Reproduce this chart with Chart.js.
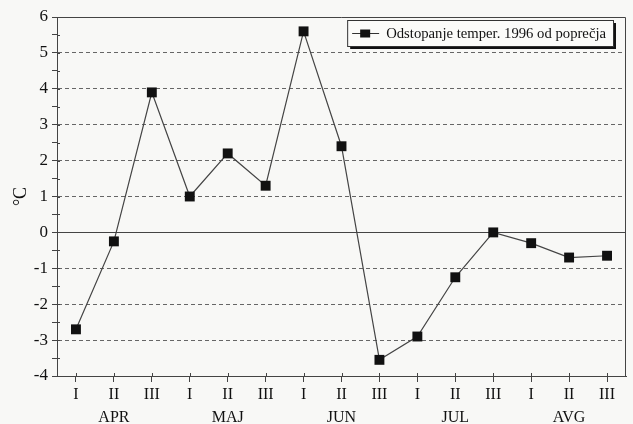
<!DOCTYPE html>
<html>
<head>
<meta charset="utf-8">
<script src="https://cdn.jsdelivr.net/npm/chart.js@4/dist/chart.umd.min.js"></script>
<style>
  html, body { margin: 0; padding: 0; background: #f8f8f6; }
  #wrap { width: 633px; height: 424px; }
</style>
</head>
<body>
<div id="wrap"><canvas id="myChart" width="633" height="424"></canvas></div>
<script>
'use strict';

// ten-day periods per month
let periods = ['I', 'II', 'III'];
let months = ['APR', 'MAJ', 'JUN', 'JUL', 'AVG'];
let deviation = [-2.7, -0.25, 3.9, 1.0, 2.2, 1.3, 5.6, 2.4, -3.55, -2.9, -1.25, 0.0, -0.3, -0.7, -0.65];
let seriesLabel = 'Odstopanje temper. 1996 od poprečja';
let yMin = -4;
let yMax = 6;

let labels = [];
for (let m = 0; m < months.length; m++) {
  for (let p = 0; p < periods.length; p++) {
    // month name goes under the middle decade
    labels.push(p === 1 ? [periods[p], months[m]] : [periods[p], '']);
  }
}

const serif = '"Liberation Serif", "DejaVu Serif", serif';

// frame, small ticks above the x axis, boxed legend with a drop shadow
const framePlugin = {
  id: 'frame',
  afterDraw(chart) {
    let ctx = chart.ctx;
    let area = chart.chartArea;
    ctx.save();
    ctx.strokeStyle = '#444';
    ctx.lineWidth = 1;
    ctx.beginPath();
    ctx.moveTo(area.left, area.top + 0.5);
    ctx.lineTo(area.right - 0.5, area.top + 0.5);
    ctx.lineTo(area.right - 0.5, area.bottom);
    ctx.stroke();

    let xScale = chart.scales.x;
    ctx.beginPath();
    for (let i = 0; i < xScale.ticks.length; i++) {
      let px = Math.round(xScale.getPixelForTick(i)) + 0.5;
      ctx.moveTo(px, area.bottom);
      ctx.lineTo(px, area.bottom - 3);
    }
    let yScale = chart.scales.y;
    for (let i = 0; i < yScale.ticks.length; i++) {
      let py = Math.round(yScale.getPixelForTick(i)) + 0.5;
      ctx.moveTo(area.left, py);
      ctx.lineTo(area.left + 3, py);
    }
    ctx.stroke();

    ctx.font = '14.7px ' + serif;
    let textW = ctx.measureText(seriesLabel).width;
    let right = area.right - 13;
    let top = area.top + 3;
    let h = 26;
    let w = textW + 46;
    let left = right - w;

    ctx.fillStyle = '#111';
    ctx.fillRect(left + 3, top + 3, w, h);
    ctx.fillStyle = '#fbfbf9';
    ctx.fillRect(left, top, w, h);
    ctx.strokeStyle = '#333';
    ctx.strokeRect(left + 0.5, top + 0.5, w, h);

    let cy = top + h / 2 + 0.5;
    ctx.strokeStyle = '#333';
    ctx.beginPath();
    ctx.moveTo(left + 5, cy);
    ctx.lineTo(left + 32, cy);
    ctx.stroke();
    ctx.fillStyle = '#111';
    ctx.fillRect(left + 13, cy - 4, 10, 8);

    ctx.fillStyle = '#111';
    ctx.textBaseline = 'middle';
    ctx.textAlign = 'left';
    ctx.fillText(seriesLabel, left + 39, cy + 1);
    ctx.restore();
  }
};

const config = {
  type: 'line',
  data: {
    labels: labels,
    datasets: [
      {
        label: seriesLabel,
        data: deviation,
        borderColor: '#444',
        borderWidth: 1.2,
        backgroundColor: '#111',
        pointStyle: 'rect',
        pointRadius: 7,
        pointBorderWidth: 0,
        pointBackgroundColor: '#111',
        tension: 0,
      },
    ],
  },
  options: {
    responsive: false,
    animation: false,
    layout: { padding: { top: 17, right: 2, left: 0, bottom: 0 } },
    plugins: {
      legend: { display: false },
      tooltip: { enabled: false },
    },
    scales: {
      x: {
        offset: true,
        afterFit(scale) { scale.height = 48; },
        grid: {
          drawOnChartArea: false,
          drawTicks: true,
          tickLength: 6,
          tickColor: '#444',
        },
        border: { display: true, color: '#444', width: 1 },
        ticks: {
          color: '#111',
          autoSkip: false,
          maxRotation: 0,
          padding: 2,
          font: { family: serif, size: 16, lineHeight: 1.4 },
        },
      },
      y: {
        min: yMin,
        max: yMax,
        afterFit(scale) { scale.width = 57; },
        title: {
          display: true,
          text: '°C',
          color: '#111',
          padding: { top: 10, bottom: 0 },
          font: { family: serif, size: 18 },
        },
        grid: {
          color(c) {
            if (!c.tick) return '#444';
            let v = c.tick.value;
            if (v % 1 !== 0 || v === yMax || v === yMin) return 'rgba(0,0,0,0)';
            return v === 0 ? '#444' : '#666';
          },
          lineWidth: 1,
          tickLength: 5,
          tickColor: '#444',
        },
        border: {
          display: true,
          color: '#444',
          width: 1,
          dash(c) {
            if (c.tick && c.tick.value !== 0) return [4, 3];
            return [];
          },
        },
        ticks: {
          stepSize: 0.5,
          autoSkip: false,
          color: '#111',
          padding: 4,
          font: { family: serif, size: 17 },
          callback(value) {
            return Number.isInteger(value) ? String(value) : '';
          },
        },
      },
    },
  },
  plugins: [framePlugin],
};

let chartCanvas = document.getElementById('myChart').getContext('2d');
const myChart = new Chart(chartCanvas, config);
</script>
</body>
</html>
